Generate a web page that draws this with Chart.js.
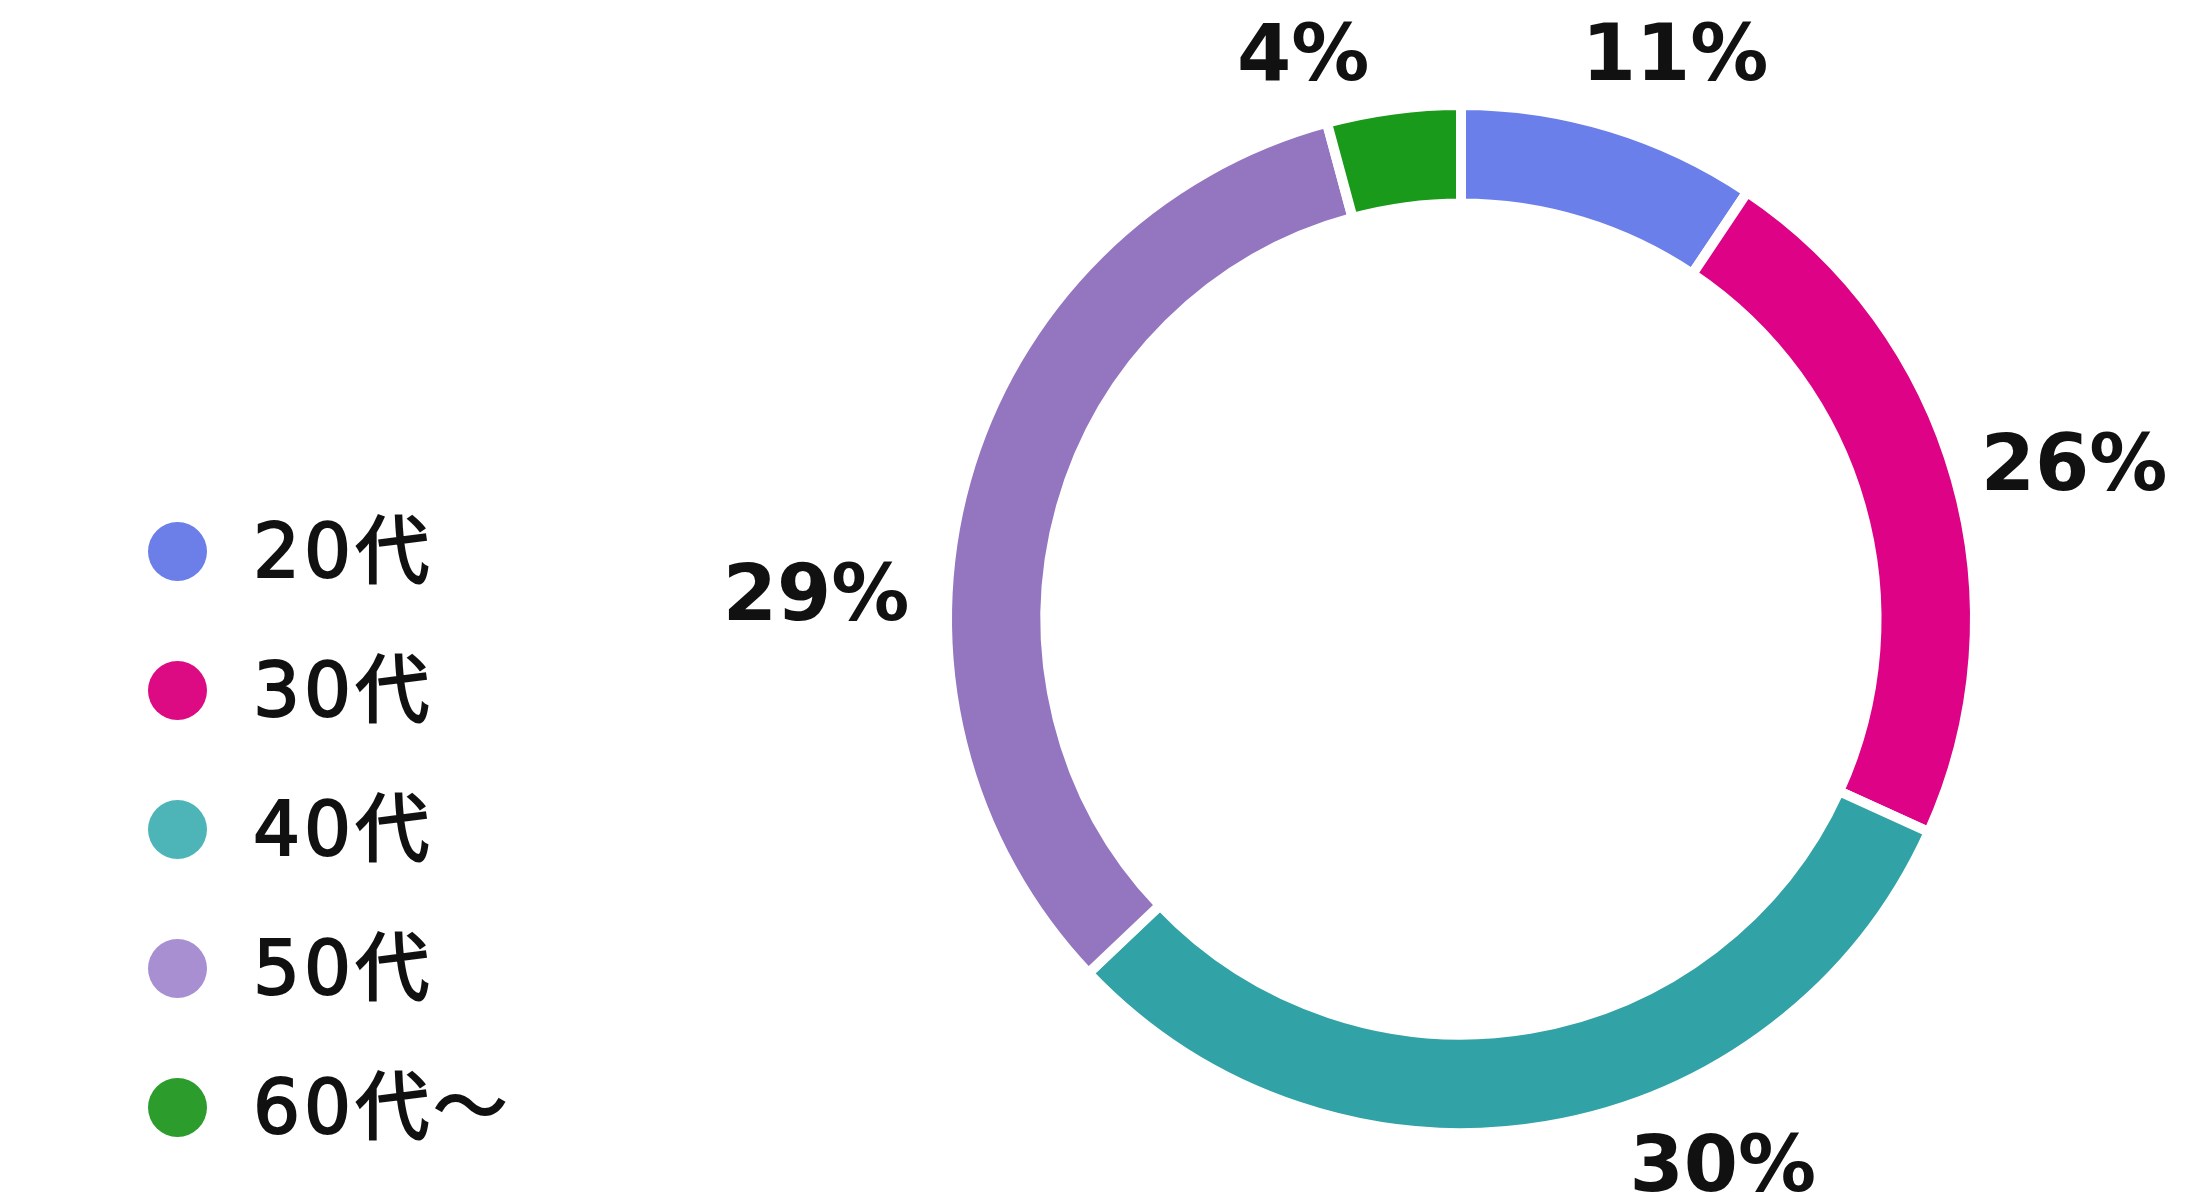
<!DOCTYPE html>
<html>
<head>
<meta charset="utf-8">
<script src="https://cdn.jsdelivr.net/npm/chart.js@4.4.1/dist/chart.umd.min.js"></script>
<style>
  html, body { margin: 0; padding: 0; background: #fff; }
  #wrap { position: relative; width: 2200px; height: 1200px; }
  #ageChart { position: absolute; left: 0; top: 0; }
  #legend { position: absolute; left: 0; top: 482px; }
  .item { display: flex; align-items: center; height: 139px; }
  .dot { width: 59px; height: 59px; border-radius: 50%; margin-left: 148px; margin-right: 46px; }
  .txt { font-family: "DejaVu Sans", "Noto Sans CJK JP", sans-serif; font-size: 74px; letter-spacing: 4px; color: #111; line-height: 139px; -webkit-text-stroke: 2px #111; }
</style>
</head>
<body>
<div id="wrap">
  <canvas id="ageChart" width="2200" height="1200"></canvas>
  <div id="legend"></div>
</div>
<script>
// 年代別の割合
var ageLabels = ['20代', '30代', '40代', '50代', '60代～'];
// slice sizes as drawn in the picture
var sliceValues = [9.4, 22.4, 31.1, 32.9, 4.2];
// percentages printed next to the ring
var percentText = ['11%', '26%', '30%', '29%', '4%'];
var sliceColors = ['#6a7fea', '#dd0286', '#31a2a6', '#9476c0', '#1a9a1a'];
var legendColors = ['#6c7ee8', '#dc0a83', '#4db5b8', '#a78fd2', '#2c9c2c'];

// legend (html)
var legendHtml = '';
for (var i = 0; i < ageLabels.length; i++) {
    legendHtml += '<div class="item"><span class="dot" style="background:' + legendColors[i] + '"></span>'
        + '<span class="txt">' + ageLabels[i] + '</span></div>';
}
document.getElementById('legend').innerHTML = legendHtml;

// % labels outside the ring
var outsideLabels = {
    id: 'outsideLabels',
    afterDatasetsDraw: function (chart, args, opts) {
        var ctx = chart.ctx;
        var meta = chart.getDatasetMeta(0);
        ctx.save();
        ctx.font = 'bold ' + opts.size + 'px "DejaVu Sans"';
        ctx.fillStyle = opts.color;
        ctx.textAlign = 'center';
        ctx.textBaseline = 'alphabetic';
        meta.data.forEach(function (arc, i) {
            var p = arc.getProps(['x', 'y', 'startAngle', 'endAngle', 'outerRadius'], true);
            var a = (p.startAngle + p.endAngle) / 2 + opts.shift[i] * Math.PI / 180;
            var r = p.outerRadius + opts.gap[i];
            var x = p.x + Math.cos(a) * r;
            var y = p.y + Math.sin(a) * r + opts.size * 0.729 / 2;
            ctx.fillText(opts.text[i], x, y);
        });
        ctx.restore();
    }
};

var config = {
    type: 'doughnut',
    data: {
        labels: ageLabels,
        datasets: [{
            data: sliceValues,
            backgroundColor: sliceColors,
            borderColor: '#ffffff',
            borderWidth: 10
        }]
    },
    options: {
        responsive: false,
        animation: false,
        cutout: '80.84%',
        layout: { padding: { left: 722, top: 100, bottom: 62, right: 0 } },
        plugins: {
            legend: { display: false },
            tooltip: { enabled: false },
            outsideLabels: {
                text: percentText,
                size: 78,
                color: '#111',
                shift: [3.75, 1.4, -16.2, -13.2, -8.0],
                gap: [92.5, 119, 89, 131.6, 74.6]
            }
        }
    },
    plugins: [outsideLabels]
};

var ctx = document.getElementById('ageChart').getContext('2d');
window.ageChart = new Chart(ctx, config);
</script>
</body>
</html>
